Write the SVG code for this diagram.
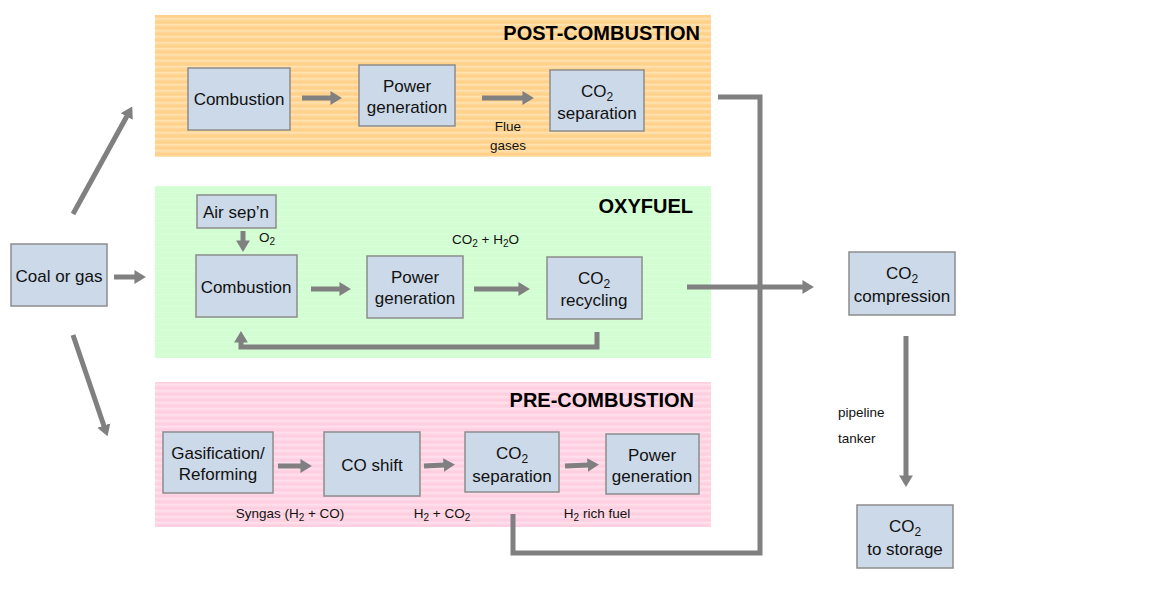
<svg xmlns="http://www.w3.org/2000/svg" width="1173" height="608" viewBox="0 0 1173 608">
<style>
.box{fill:#ccd9e8;stroke:#8c8c8c;stroke-width:1.5}
.t{font-family:"Liberation Sans",Arial,sans-serif;font-size:17px;fill:#111;text-anchor:middle}
.s{font-family:"Liberation Sans",Arial,sans-serif;font-size:13.5px;fill:#111}
.h{font-family:"Liberation Sans",Arial,sans-serif;font-size:20px;font-weight:bold;fill:#000;text-anchor:end}
.a{fill:none;stroke:#808080;stroke-width:5;marker-end:url(#ah)}
.l{fill:none;stroke:#808080;stroke-width:5}
</style>
<defs>
<marker id="ah" viewBox="0 0 10 12" refX="0.5" refY="6" markerWidth="2.3" markerHeight="3" orient="auto" markerUnits="strokeWidth">
<path d="M0,0 L10,6 L0,12 Z" fill="#808080"/>
</marker>
<pattern id="pOr" width="8" height="6" patternUnits="userSpaceOnUse">
<rect width="8" height="6" fill="#ffd696"/>
<rect y="0" width="8" height="1.5" fill="#ffe2b0"/>
<rect y="3.5" width="8" height="1" fill="#ffcc80"/>
</pattern>
<pattern id="pGr" width="8" height="6" patternUnits="userSpaceOnUse">
<rect width="8" height="6" fill="#d3fdd3"/>
<rect y="0" width="8" height="1" fill="#d9ffd9"/>
</pattern>
<pattern id="pPk" width="8" height="6" patternUnits="userSpaceOnUse">
<rect width="8" height="6" fill="#ffd5e4"/>
<rect y="0" width="8" height="1.5" fill="#ffdfeb"/>
<rect y="3.5" width="8" height="1" fill="#fccadd"/>
</pattern>
</defs>
<rect width="1173" height="608" fill="#fff"/>

<g id="band-post">
<rect x="155" y="15" width="556" height="142" fill="url(#pOr)"/>
<text class="h" x="700" y="40">POST-COMBUSTION</text>
</g>
<g id="band-oxy">
<rect x="155" y="186" width="556" height="172" fill="url(#pGr)"/>
<text class="h" x="693" y="213">OXYFUEL</text>
</g>
<g id="band-pre">
<rect x="155" y="382" width="556" height="145" fill="url(#pPk)"/>
<text class="h" x="694" y="407">PRE-COMBUSTION</text>
</g>

<g id="connectors">
<line class="a" x1="114" y1="277" x2="135" y2="277"/>
<line class="a" x1="73" y1="214" x2="127" y2="116"/>
<line class="a" x1="73" y1="335" x2="104" y2="426"/>
<line class="a" x1="302" y1="98" x2="331" y2="98"/>
<line class="a" x1="482" y1="98" x2="523" y2="98"/>
<line class="a" x1="243" y1="231" x2="243" y2="241"/>
<line class="a" x1="311" y1="289" x2="340" y2="289"/>
<line class="a" x1="474" y1="289" x2="519" y2="289"/>
<polyline class="a" points="597,332 597,347 241,347 241,342"/>
<line class="a" x1="278" y1="466" x2="301" y2="466"/>
<line class="a" x1="424" y1="466" x2="444" y2="465"/>
<line class="a" x1="565" y1="466" x2="588" y2="465"/>
<polyline class="l" points="718,97 760,97 760,553 513,553 513,514"/>
<line class="a" x1="687" y1="287" x2="803" y2="287"/>
<line class="a" x1="906" y1="336" x2="906" y2="476"/>
</g>

<g id="coal">
<rect class="box" x="11" y="244" width="96" height="62"/>
<text class="t" x="59" y="282">Coal or gas</text>
</g>

<g id="post-combustion">
<rect class="box" x="188" y="68" width="102" height="62"/>
<text class="t" x="239" y="105">Combustion</text>
</g>
<g id="post-power">
<rect class="box" x="359" y="65" width="96" height="61"/>
<text class="t" x="407" y="92">Power</text>
<text class="t" x="407" y="113">generation</text>
</g>
<g id="post-sep">
<rect class="box" x="550" y="70" width="94" height="61"/>
<text class="t" x="597" y="97">CO<tspan font-size="12" dy="4">2</tspan></text>
<text class="t" x="597" y="119">separation</text>
</g>
<g id="flue-label">
<text class="s" x="508" y="131" text-anchor="middle">Flue</text>
<text class="s" x="508" y="150" text-anchor="middle">gases</text>
</g>

<g id="oxy-airsep">
<rect class="box" x="197" y="195" width="79" height="33"/>
<text class="t" x="236" y="218">Air sep’n</text>
</g>
<g id="o2-label">
<text class="s" x="259" y="242">O<tspan font-size="10" dy="3">2</tspan></text>
</g>
<g id="oxy-combustion">
<rect class="box" x="196" y="255" width="101" height="62"/>
<text class="t" x="246" y="293">Combustion</text>
</g>
<g id="oxy-power">
<rect class="box" x="367" y="256" width="96" height="62"/>
<text class="t" x="415" y="283">Power</text>
<text class="t" x="415" y="304">generation</text>
</g>
<g id="oxy-recycling">
<rect class="box" x="547" y="257" width="95" height="62"/>
<text class="t" x="594" y="284">CO<tspan font-size="12" dy="4">2</tspan></text>
<text class="t" x="594" y="306">recycling</text>
</g>
<g id="co2h2o-label">
<text class="s" x="452" y="244">CO<tspan font-size="10" dy="3">2</tspan><tspan dy="-3">  + H</tspan><tspan font-size="10" dy="3">2</tspan><tspan dy="-3">O</tspan></text>
</g>

<g id="pre-gasification">
<rect class="box" x="163" y="432" width="110" height="61"/>
<text class="t" x="218" y="459">Gasification/</text>
<text class="t" x="218" y="480">Reforming</text>
</g>
<g id="pre-coshift">
<rect class="box" x="324" y="432" width="96" height="64"/>
<text class="t" x="372" y="471">CO shift</text>
</g>
<g id="pre-sep">
<rect class="box" x="465" y="432" width="94" height="60"/>
<text class="t" x="512" y="459">CO<tspan font-size="12" dy="4">2</tspan></text>
<text class="t" x="512" y="482">separation</text>
</g>
<g id="pre-power">
<rect class="box" x="606" y="434" width="93" height="60"/>
<text class="t" x="652" y="461">Power</text>
<text class="t" x="652" y="482">generation</text>
</g>
<g id="pre-labels">
<text class="s" x="290" y="518" text-anchor="middle">Syngas (H<tspan font-size="10" dy="3">2</tspan><tspan dy="-3"> + CO)</tspan></text>
<text class="s" x="442" y="518" text-anchor="middle">H<tspan font-size="10" dy="3">2</tspan><tspan dy="-3"> + CO</tspan><tspan font-size="10" dy="3">2</tspan></text>
<text class="s" x="597" y="518" text-anchor="middle">H<tspan font-size="10" dy="3">2</tspan><tspan dy="-3"> rich fuel</tspan></text>
</g>

<g id="compression">
<rect class="box" x="849" y="252" width="106" height="63"/>
<text class="t" x="902" y="279">CO<tspan font-size="12" dy="4">2</tspan></text>
<text class="t" x="902" y="302">compression</text>
</g>
<g id="transport-labels">
<text class="s" x="838" y="417">pipeline</text>
<text class="s" x="838" y="443">tanker</text>
</g>
<g id="storage">
<rect class="box" x="857" y="505" width="96" height="63"/>
<text class="t" x="905" y="532">CO<tspan font-size="12" dy="4">2</tspan></text>
<text class="t" x="905" y="555">to storage</text>
</g>
</svg>
